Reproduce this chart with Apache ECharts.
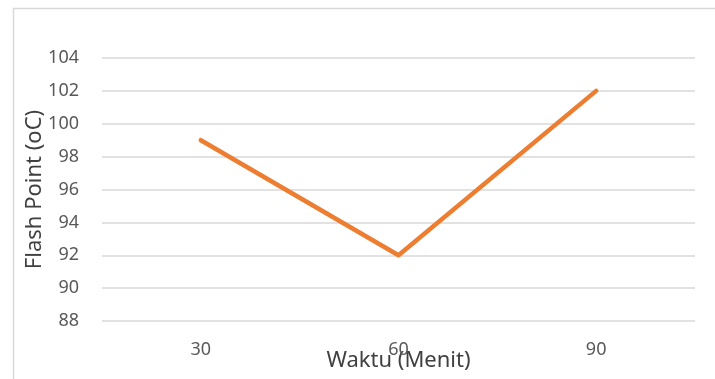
<!DOCTYPE html>
<html lang="en">
<head>
  <meta charset="UTF-8">
  <title>Flash Point</title>
  <style>
    body, html {
      margin: 0;
      padding: 0;
      background: #fff;
    }
    #main {
      width: 715px;
      height: 379px;
    }
  </style>
</head>
<body>
  <div id="main"></div>
  <script src="https://cdn.jsdelivr.net/npm/echarts@6/dist/echarts.min.js"></script>
  <script>
    // data
    var waktu = ['30', '60', '90'];
    var flashPoint = [99, 92, 102];

    var chart = echarts.init(document.getElementById('main'));
    var font = '"Noto Sans", sans-serif';

    var option = {
      backgroundColor: '#fff',
      animation: false,
      // chart frame (runs off right and bottom edge, like the reference)
      graphic: [{
        type: 'rect',
        left: 11,
        top: 6,
        shape: { width: 760, height: 420 },
        style: { fill: 'none', stroke: '#d9d9d9', lineWidth: 1.5 },
        silent: true
      }],
      grid: {
        left: 102,
        right: 20,
        top: 58,
        bottom: 58,
        outerBoundsMode: 'none',
        containLabel: false
      },
      xAxis: {
        type: 'category',
        data: waktu,
        boundaryGap: true,
        name: 'Waktu (Menit)',
        nameLocation: 'middle',
        nameGap: 29,
        nameMoveOverlap: false,
        nameTextStyle: { color: '#404040', fontSize: 22, fontFamily: font },
        axisLine: { show: false },
        axisTick: { show: false },
        axisLabel: { color: '#595959', fontSize: 18, fontFamily: font, margin: 20 }
      },
      yAxis: {
        type: 'value',
        min: 88,
        max: 104,
        interval: 2,
        name: 'Flash Point (oC)',
        nameLocation: 'middle',
        nameRotate: 90,
        nameGap: 56,
        nameMoveOverlap: false,
        nameTextStyle: { color: '#404040', fontSize: 22, fontFamily: font },
        axisLine: { show: false },
        axisTick: { show: false },
        axisLabel: { color: '#595959', fontSize: 18, fontFamily: font, margin: 23 },
        splitLine: { lineStyle: { color: '#d9d9d9', width: 1.5 } }
      },
      series: [{
        type: 'line',
        data: flashPoint,
        showSymbol: false,
        lineStyle: { color: '#ED7D31', width: 4.5, cap: 'round', join: 'round' },
        itemStyle: { color: '#ED7D31' }
      }]
    };

    chart.setOption(option);
  </script>
</body>
</html>
